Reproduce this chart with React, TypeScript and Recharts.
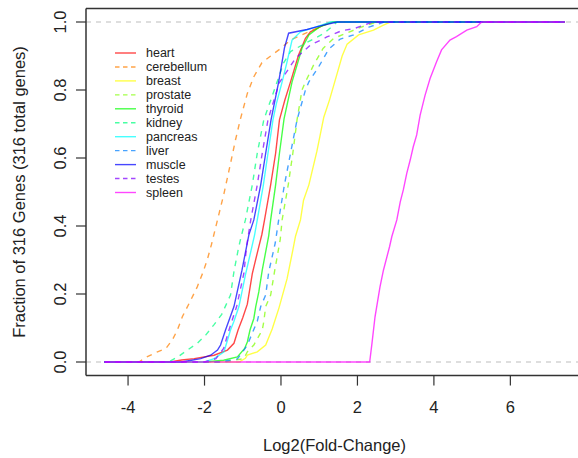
import React from 'react';
import { LineChart, Line, XAxis, YAxis, ReferenceLine, Label } from 'recharts';

type Pt = [number, number];

const heart: Pt[] = [[-4.62,0],[-2.9,0],[-2.6,0.006],[-2.27,0.01],[-1.75,0.02],[-1.4,0.035],[-1.23,0.055],[-1.12,0.095],[-1.0,0.13],[-0.88,0.17],[-0.75,0.26],[-0.6,0.33],[-0.5,0.375],[-0.43,0.418],[-0.27,0.521],[-0.14,0.614],[-0.04,0.712],[0.1,0.77],[0.25,0.824],[0.46,0.903],[0.64,0.952],[0.77,0.971],[1.2,0.996],[1.4,1],[7.42,1]];
const cerebellum: Pt[] = [[-4.62,0],[-3.71,0],[-3.58,0.011],[-3.23,0.03],[-3.01,0.04],[-2.84,0.065],[-2.71,0.094],[-2.58,0.133],[-2.36,0.182],[-2.19,0.221],[-2.05,0.261],[-1.93,0.3],[-1.82,0.345],[-1.66,0.418],[-1.49,0.496],[-1.32,0.584],[-1.19,0.653],[-1.06,0.715],[-0.88,0.79],[-0.71,0.839],[-0.5,0.88],[-0.27,0.9],[-0.01,0.922],[0.25,0.947],[0.7,0.97],[1.1,0.99],[1.4,1],[7.42,1]];
const breast: Pt[] = [[-4.62,0],[-1.1,0],[-0.93,0.011],[-0.88,0.02],[-0.62,0.03],[-0.4,0.05],[-0.23,0.097],[-0.05,0.16],[0.16,0.245],[0.31,0.329],[0.38,0.37],[0.51,0.418],[0.59,0.476],[0.73,0.521],[0.94,0.62],[1.12,0.72],[1.27,0.771],[1.47,0.849],[1.6,0.9],[1.73,0.935],[2.03,0.962],[2.42,0.976],[2.68,0.991],[2.86,1],[7.42,1]];
const prostate: Pt[] = [[-4.62,0],[-1.5,0],[-0.97,0.01],[-0.88,0.03],[-0.71,0.05],[-0.49,0.094],[-0.45,0.118],[-0.4,0.163],[-0.27,0.197],[-0.17,0.265],[-0.02,0.36],[0.03,0.418],[0.19,0.521],[0.31,0.614],[0.42,0.712],[0.55,0.8],[0.64,0.824],[0.86,0.875],[1.1,0.922],[1.38,0.952],[1.73,0.968],[2.1,0.985],[2.5,1],[7.42,1]];
const thyroid: Pt[] = [[-4.62,0],[-2.0,0],[-1.5,0.005],[-1.14,0.015],[-0.95,0.04],[-0.88,0.059],[-0.81,0.094],[-0.71,0.128],[-0.66,0.163],[-0.58,0.206],[-0.49,0.27],[-0.32,0.372],[-0.27,0.418],[-0.14,0.521],[-0.04,0.614],[0.08,0.715],[0.29,0.824],[0.55,0.923],[0.73,0.962],[1.0,0.985],[1.35,1],[7.42,1]];
const kidney: Pt[] = [[-4.62,0],[-2.95,0],[-2.71,0.014],[-2.45,0.035],[-2.19,0.055],[-1.97,0.079],[-1.75,0.11],[-1.55,0.14],[-1.32,0.197],[-1.23,0.266],[-1.12,0.33],[-1.05,0.365],[-0.93,0.418],[-0.75,0.521],[-0.62,0.614],[-0.45,0.712],[-0.3,0.76],[-0.1,0.824],[0.07,0.88],[0.25,0.913],[0.68,0.94],[1.12,0.966],[1.47,1],[7.42,1]];
const pancreas: Pt[] = [[-4.62,0],[-2.0,0],[-1.75,0.01],[-1.49,0.03],[-1.32,0.094],[-1.23,0.12],[-1.1,0.163],[-0.93,0.256],[-0.69,0.374],[-0.62,0.418],[-0.46,0.521],[-0.34,0.614],[-0.21,0.712],[-0.12,0.76],[0.03,0.824],[0.14,0.874],[0.29,0.947],[0.51,0.971],[0.9,0.985],[1.3,1],[7.42,1]];
const liver: Pt[] = [[-4.62,0],[-1.6,0],[-1.14,0.009],[-0.97,0.035],[-0.88,0.05],[-0.62,0.12],[-0.53,0.163],[-0.4,0.197],[-0.32,0.265],[-0.15,0.35],[-0.06,0.418],[0.09,0.521],[0.25,0.614],[0.42,0.712],[0.64,0.8],[0.73,0.824],[0.99,0.869],[1.25,0.92],[1.55,0.95],[1.9,0.962],[2.3,0.985],[2.7,1],[7.42,1]];
const muscle: Pt[] = [[-4.62,0],[-2.6,0],[-2.45,0.003],[-2.1,0.01],[-1.84,0.02],[-1.66,0.035],[-1.58,0.05],[-1.45,0.094],[-1.23,0.163],[-1.02,0.27],[-0.84,0.374],[-0.71,0.418],[-0.53,0.521],[-0.4,0.614],[-0.26,0.712],[-0.06,0.824],[0.09,0.923],[0.2,0.967],[0.68,0.978],[1.0,0.988],[1.47,1],[7.42,1]];
const testes: Pt[] = [[-4.62,0],[-2.0,0],[-1.7,0.01],[-1.5,0.04],[-1.36,0.094],[-1.16,0.163],[-0.97,0.261],[-0.9,0.34],[-0.79,0.418],[-0.62,0.521],[-0.49,0.614],[-0.34,0.712],[-0.05,0.82],[0.38,0.893],[0.77,0.932],[1.2,0.956],[1.6,0.975],[1.9,0.98],[2.4,1],[7.42,1]];
const spleen: Pt[] = [[-4.62,0],[2.32,0],[2.38,0.055],[2.46,0.133],[2.59,0.221],[2.68,0.27],[2.84,0.339],[2.9,0.369],[3.03,0.418],[3.12,0.471],[3.2,0.506],[3.29,0.555],[3.38,0.594],[3.46,0.633],[3.55,0.668],[3.64,0.726],[3.77,0.785],[3.9,0.834],[4.07,0.883],[4.2,0.918],[4.42,0.947],[4.59,0.957],[4.86,0.976],[5.12,0.986],[5.25,1],[7.42,1]];

const tissueNames = ['heart','cerebellum','breast','prostate','thyroid','kidney','pancreas','liver','muscle','testes','spleen'];
const tissueValues: Pt[][] = [heart, cerebellum, breast, prostate, thyroid, kidney, pancreas, liver, muscle, testes, spleen];
const tissueColors = ['#FF0000','#FF8000','#FFFF00','#80FF00','#00FF00','#00FF80','#00FFFF','#0080FF','#0000FF','#8000FF','#FF00FF'];
const tissueDashed = [false,true,false,true,false,true,false,true,false,true,false];

const xTicks = [-4, -2, 0, 2, 4, 6];
const yTicks = [0, 0.2, 0.4, 0.6, 0.8, 1.0];
const xDomain: [number, number] = [-5.1, 7.9];
const yDomain: [number, number] = [-0.04, 1.04];

const FONT = '"Liberation Sans", Arial, Helvetica, sans-serif';
const DASH = '5.5 5.5';
const OPACITY = 0.72;
const BOX = '#333';
const BOX_LINE = { stroke: BOX, strokeWidth: 1.5 };

const series = tissueNames.map((name, i) => ({
  name,
  color: tissueColors[i],
  dashed: tissueDashed[i],
  data: tissueValues[i].map(([x, y]) => ({ x, y })),
}));

const YTick = (props: any) => {
  const { x, y, payload } = props;
  return (
    <text x={x} y={y} dy="0.355em" textAnchor="middle" transform={`rotate(-90, ${x}, ${y})`}
      fontFamily={FONT} fontSize={16.5} fill="#222">
      {Number(payload.value).toFixed(1)}
    </text>
  );
};

const LegendBox = () => (
  <svg width={130} height={160} style={{ position: 'absolute', left: 110, top: 46, display: 'block' }}>
    {series.map((s, i) => {
      const cy = 7 + i * 13.95;
      return (
        <g key={s.name}>
          <line x1={5} x2={26} y1={cy} y2={cy} stroke={s.color} strokeOpacity={OPACITY} strokeWidth={1.4}
            strokeDasharray={s.dashed ? '4.5 3.5' : undefined} />
          <text x={36} y={cy} dy="0.355em" fontFamily={FONT} fontSize={12.5} fill="#222">{s.name}</text>
        </g>
      );
    })}
  </svg>
);

export default function App() {
  return (
    <div style={{ position: 'absolute', left: 0, top: 0, width: 578, height: 458, overflow: 'hidden', background: '#fff' }}>
      <LineChart width={600} height={458} margin={{ top: 8.4, right: 17, bottom: 42.4, left: 16 }}>
        <XAxis type="number" dataKey="x" domain={xDomain} ticks={xTicks} allowDataOverflow
          axisLine={BOX_LINE} tickLine={{ stroke: BOX, strokeWidth: 1.2 }} tickSize={10} tickMargin={16} height={40}
          tick={{ fontFamily: FONT, fontSize: 16.5, fill: '#222' }} interval={0}>
          <Label value="Log2(Fold-Change)" position="bottom" offset={24} fontFamily={FONT} fontSize={16.5} fill="#222" />
        </XAxis>
        <YAxis type="number" domain={yDomain} ticks={yTicks} allowDataOverflow width={70}
          axisLine={BOX_LINE} tickLine={{ stroke: BOX, strokeWidth: 1.2 }} tickSize={10} tickMargin={16}
          tick={<YTick />} interval={0}>
          <Label value="Fraction of 316 Genes (316 total genes)" angle={-90} position="insideLeft" offset={3}
            style={{ textAnchor: 'middle' }} fontFamily={FONT} fontSize={16.5} fill="#222" />
        </YAxis>
        <ReferenceLine y={yDomain[1]} stroke={BOX} strokeWidth={1.5} />
        <ReferenceLine y={0} stroke="#BDBDBD" strokeWidth={1.2} strokeDasharray="5 5" />
        <ReferenceLine y={1} stroke="#BDBDBD" strokeWidth={1.2} strokeDasharray="5 5" />
        {series.map((s) => (
          <Line key={s.name} data={s.data} dataKey="y" name={s.name} type="linear" stroke={s.color}
            strokeOpacity={OPACITY} strokeWidth={1.4} strokeDasharray={s.dashed ? DASH : undefined}
            dot={false} activeDot={false} isAnimationActive={false} />
        ))}
      </LineChart>
      <LegendBox />
    </div>
  );
}
